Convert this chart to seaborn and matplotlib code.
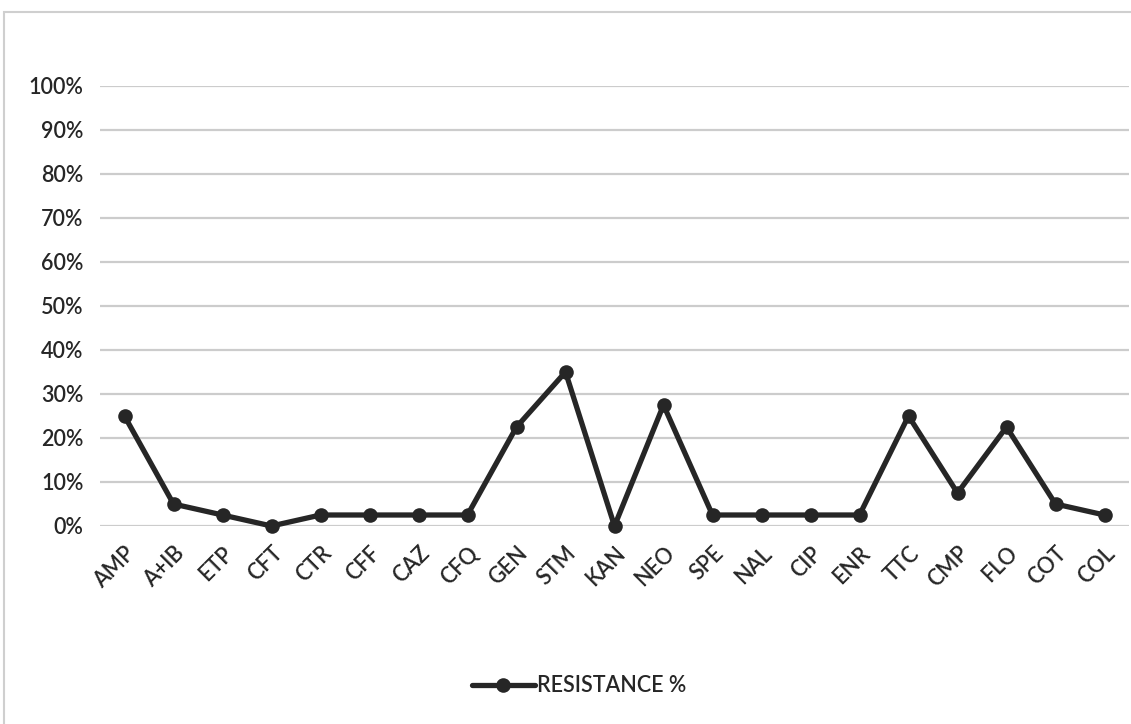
import pandas as pd
import numpy as np
import matplotlib.pyplot as plt
import seaborn as sns
from matplotlib.patches import Rectangle

# antibiotic codes and resistance values (%)
antibiotics = ['AMP', 'A+IB', 'ETP', 'CFT', 'CTR', 'CFF', 'CAZ', 'CFQ', 'GEN', 'STM', 'KAN',
               'NEO', 'SPE', 'NAL', 'CIP', 'ENR', 'TTC', 'CMP', 'FLO', 'COT', 'COL']
resistance = [25, 5, 2.5, 0, 2.5, 2.5, 2.5, 2.5, 22.5, 35, 0,
              27.5, 2.5, 2.5, 2.5, 2.5, 25, 7.5, 22.5, 5, 2.5]
y_ticks = [0, 10, 20, 30, 40, 50, 60, 70, 80, 90, 100]

df = pd.DataFrame({'Antibiotic': antibiotics, 'Resistance': resistance})

sns.set_style('white')
plt.rcParams['font.family'] = ['Lato', 'DejaVu Sans']

fig = plt.figure(figsize=(11.31, 7.24), dpi=100)
ax = fig.add_axes([100 / 1131, 1 - 526 / 724, 1029 / 1131, 440 / 724])

txt = '#262626'
ax.set_axisbelow(True)
for t in y_ticks:
    ax.axhline(t, color='#cccccc', lw=1.6, zorder=0)

sns.lineplot(data=df, x='Antibiotic', y='Resistance', sort=False, ax=ax,
             color='#262626', lw=3.8, marker='o', markersize=10.5,
             markeredgewidth=0, label='RESISTANCE %', legend=False, clip_on=False)

ax.set_xlim(-0.5, len(antibiotics) - 0.5)
ax.set_ylim(0, 100)
ax.set_yticks(y_ticks)
ax.set_yticklabels([f'{t}%' for t in y_ticks], fontsize=15.5, color=txt,
                   fontweight='semibold')
ax.set_xticks(range(len(antibiotics)))
ax.set_xticklabels(antibiotics, fontsize=15.5, color=txt, rotation=45,
                   ha='right', rotation_mode='anchor', fontweight='semibold')
ax.tick_params(axis='x', pad=12, length=0)
ax.tick_params(axis='y', pad=12, length=0)
ax.set_xlabel('')
ax.set_ylabel('')
for s in ax.spines.values():
    s.set_visible(False)

# chart-area frame
fig.patches.append(Rectangle((4 / 1131, -0.01), 1.2, 1 - 12 / 724 + 0.01,
                             transform=fig.transFigure, fill=False,
                             edgecolor='#cfcfcf', lw=1.5))

handles, labels = ax.get_legend_handles_labels()
leg = fig.legend(handles, labels, loc='center', bbox_to_anchor=(579 / 1131, 1 - 686 / 724),
                 frameon=False, fontsize=15.5, handlelength=2.9, handletextpad=0.1,
                 labelcolor=txt)
for t in leg.get_texts():
    t.set_fontweight('semibold')

fig.savefig('out.png', dpi=100)
